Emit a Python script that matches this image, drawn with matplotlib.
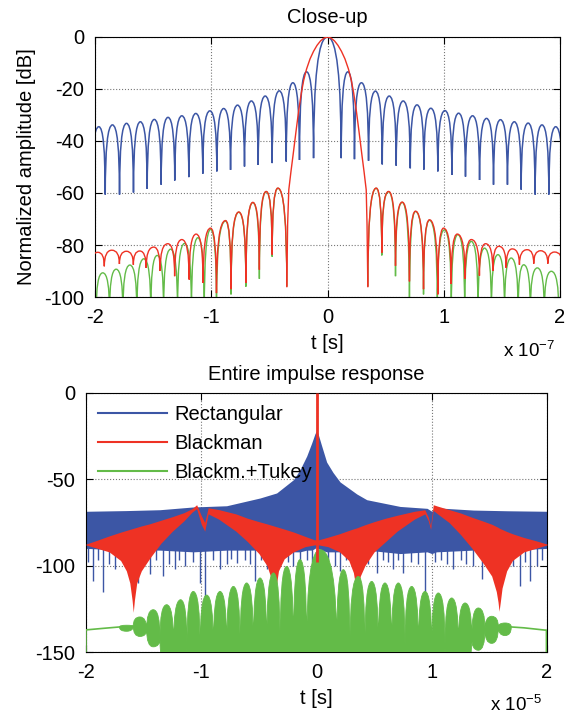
import matplotlib
matplotlib.use('Agg')
import matplotlib.pyplot as plt
from matplotlib.path import Path
from matplotlib.patches import PathPatch
from matplotlib.lines import Line2D

plt.rcParams['font.family'] = ['Liberation Sans', 'DejaVu Sans']
plt.rcParams['mathtext.fontset'] = 'custom'
plt.rcParams['mathtext.rm'] = 'Liberation Sans'
plt.rcParams['axes.unicode_minus'] = False

BLUE = '#3c56a5'
RED = '#ee3224'
GREEN = '#63bb48'

# ---------------- Close-up (t in units of 1e-7 s) ----------------
# rectangular window: null positions / depths and sidelobe peaks
rect_null_t = [-2.03, -1.912, -1.789, -1.669, -1.551, -1.431, -1.314, -1.193, -1.073, -0.952,
               -0.834, -0.714, -0.596, -0.476, -0.355, -0.241, -0.12, 0.118, 0.232, 0.353,
               0.471, 0.591, 0.712, 0.829, 0.949, 1.07, 1.187, 1.308, 1.428, 1.548,
               1.666, 1.786, 1.904, 2.025]
rect_null_db = [-61, -60.6, -60.6, -59.8, -58.4, -56.8, -55.2, -53.9, -52.6, -51.7,
                -51.1, -49.8, -49.2, -48.5, -47.9, -47.3, -46.6, -46.6, -47.0, -47.6,
                -49.0, -49.5, -50.5, -51.0, -51.7, -53.0, -53.7, -55.0, -56.8, -56.8,
                -58.7, -60.6, -60.6, -61]
rect_peak_t = [-1.967, -1.85, -1.729, -1.61, -1.49, -1.372, -1.253, -1.133, -1.012, -0.893,
               -0.774, -0.655, -0.536, -0.415, -0.298, -0.18, 0.0, 0.175, 0.292, 0.412,
               0.531, 0.651, 0.77, 0.889, 1.01, 1.128, 1.248, 1.368, 1.488, 1.607,
               1.726, 1.845, 1.963]
rect_peak_db = [-34.5, -33.8, -33.2, -32.6, -31.7, -30.9, -30.3, -29.4, -28.4, -27.5,
                -26.2, -24.6, -22.7, -20.7, -17.6, -13.4, 0.0, -13.4, -17.6, -20.8,
                -22.7, -24.6, -26.1, -27.4, -28.3, -29.3, -30.3, -31.3, -31.8, -32.6,
                -33.1, -33.8, -34.5]

# Blackman main lobe
black_main_t = [-0.35, -0.343, -0.333, -0.315, -0.295, -0.27, -0.247, -0.225, -0.204, -0.18,
                -0.15, -0.12, -0.09, -0.06, -0.03, 0.0, 0.03, 0.06, 0.09, 0.12,
                0.15, 0.18, 0.204, 0.225, 0.247, 0.27, 0.295, 0.315, 0.333, 0.34, 0.347]
black_main_db = [-96, -72, -58.8, -52, -45, -36, -28, -21.5, -16.5, -12.3,
                 -8.4, -5.5, -3.2, -1.5, -0.4, 0.0, -0.4, -1.5, -3.2, -5.5,
                 -8.4, -12.3, -16.5, -21.5, -28, -36, -45, -52, -58.8, -72, -96]

# Blackman sidelobes (alternating null / peak)
black_left_t = [-2.04, -1.975, -1.92, -1.855, -1.79, -1.73, -1.67, -1.615, -1.56, -1.494,
                -1.44, -1.373, -1.315, -1.253, -1.19, -1.13, -1.07, -1.006, -0.955, -0.877,
                -0.83, -0.763, -0.702, -0.642, -0.586, -0.527, -0.476, -0.427, -0.35]
black_left_db = [-88, -82.8, -88.2, -82, -87.3, -82.4, -87.6, -82.3, -88.8, -80.8,
                 -90, -79.5, -92, -77.9, -93.3, -75.8, -94.6, -73.5, -98.5, -70.6,
                 -97, -67.3, -94.6, -63.6, -89.5, -59.4, -83.7, -58.1, -96]
black_right_t = [0.347, 0.419, 0.467, 0.525, 0.585, 0.642, 0.705, 0.757, 0.826, 0.877,
                 0.949, 0.998, 1.064, 1.116, 1.184, 1.237, 1.307, 1.36, 1.422, 1.474,
                 1.537, 1.589, 1.651, 1.718, 1.774, 1.833, 1.895, 1.953, 2.02]
black_right_db = [-96, -58.1, -83, -59.4, -88, -63.5, -94, -67, -97, -70.3,
                  -99, -73.5, -95, -75.8, -93, -77.9, -91.8, -79.5, -90, -80.5,
                  -88.8, -81.5, -87.6, -81.8, -87.2, -82.2, -87.2, -82.7, -87.5]

# Blackman + Tukey sidelobes (alternating null / peak)
tukey_left_t = [-1.99, -1.933, -1.875, -1.818, -1.76, -1.70, -1.64, -1.58, -1.52, -1.465,
                -1.41, -1.35, -1.29, -1.23, -1.17, -1.115, -1.06, -1.005, -0.955, -0.877,
                -0.83, -0.763, -0.702, -0.642, -0.586, -0.527, -0.476, -0.427, -0.35]
tukey_left_db = [-106, -90.7, -106, -89.3, -106, -87.7, -106, -85.3, -106, -84,
                 -106, -81.6, -106, -79.4, -106, -77.2, -106, -74, -104, -70.8,
                 -99, -67.4, -96, -63.7, -93, -59.5, -84.5, -58.2, -96]
tukey_right_t = [0.347, 0.419, 0.467, 0.525, 0.585, 0.642, 0.705, 0.757, 0.826, 0.877,
                 0.945, 1.005, 1.065, 1.122, 1.18, 1.237, 1.295, 1.351, 1.41, 1.466,
                 1.523, 1.58, 1.64, 1.688, 1.745, 1.805, 1.865, 1.925, 1.99]
tukey_right_db = [-96, -58.2, -84, -59.5, -92, -63.6, -104, -67.1, -99, -70.5,
                  -104, -74.2, -106, -76, -106, -78.6, -106, -81.2, -106, -83.7,
                  -106, -85, -106, -87.6, -106, -88.8, -106, -90.1, -106]

# ---------------- Entire response (t in units of 1e-5 s) ----------------
rect_env_t = [-2.0, -1.65, -1.36, -1.07, -0.78, -0.49, -0.346, -0.2, -0.143, -0.085,
              -0.042, -0.013, 0.0, 0.013, 0.042, 0.088, 0.143, 0.204, 0.35, 0.436,
              0.725, 0.96, 1.0, 1.04, 1.36, 1.65, 2.0]
rect_env_top = [-68.5, -68.1, -67.6, -66.0, -65.3, -60.8, -57.9, -50.2, -44.4, -36.5,
                -29, -23.5, -22, -23.5, -30, -40, -46, -51.5, -58.5, -61.8,
                -65.7, -66.8, -68.5, -66.5, -67.8, -68.2, -68.5]
rect_env_bot = [-90, -91, -91, -92, -91, -91, -92, -92, -92, -91,
                -91, -90, -89, -90, -91, -92, -92, -92, -91, -91,
                -93, -92, -93, -92, -91, -91, -90]
rect_spike_t = [-1.98, -1.936, -1.9, -1.849, -1.8, -1.748, -1.7, -1.661, -1.546, -1.5,
                -1.445, -1.39, -1.329, -1.28, -1.228, -1.19, -1.141, -1.07, -1.01, -0.967,
                -0.9, -0.837, -0.78, -0.74, -0.692, -0.62, -0.58, -0.533, -0.48, -0.432,
                -0.37, -0.3, -0.25, -0.2, -0.14, -0.085, -0.04, 0.05, 0.1, 0.16,
                0.204, 0.26, 0.32, 0.38, 0.45, 0.522, 0.58, 0.62, 0.667, 0.71,
                0.753, 0.82, 0.88, 0.941, 1.03, 1.08, 1.13, 1.187, 1.25, 1.3,
                1.36, 1.433, 1.5, 1.56, 1.62, 1.708, 1.766, 1.81, 1.853, 1.91, 1.96]
rect_spike_db = [-98, -109, -97, -115, -99, -102, -96, -100.4, -110, -98,
                 -105, -97, -106, -99, -102, -97, -100, -98, -110, -118,
                 -97, -102, -99, -96, -98.5, -97, -99, -109, -97, -102,
                 -99, -97, -98, -100, -97, -96.5, -98, -99, -97, -100,
                 -103, -97, -98.5, -97, -99, -104, -97, -98, -102, -97,
                 -104, -98, -99, -115, -98, -97, -99, -102, -97, -99,
                 -100.4, -108, -97, -98, -99, -100.4, -112, -98, -109, -100.4, -97]

black_band_t = [-2.0, -1.9, -1.8, -1.7, -1.65, -1.62, -1.6, -1.59, -1.58, -1.56,
                -1.52, -1.45, -1.35, -1.25, -1.15, -1.08, -1.04, -1.0, -0.97, -0.94,
                -0.85, -0.7, -0.6, -0.5, -0.43, -0.39, -0.37, -0.36, -0.35, -0.33,
                -0.28, -0.2, -0.1, -0.02, 0.0,
                0.02, 0.1, 0.2, 0.28, 0.32, 0.34, 0.354, 0.365, 0.38, 0.42,
                0.5, 0.6, 0.7, 0.85, 0.94, 0.97, 0.99, 1.013, 1.05, 1.15,
                1.25, 1.35, 1.45, 1.52, 1.56, 1.575, 1.584, 1.595, 1.61, 1.65,
                1.7, 1.8, 1.9, 2.0]
black_band_top = [-87.5, -85.2, -82.8, -80.6, -79.6, -79, -78.6, -78.4, -78.2, -77.8,
                  -77, -75.8, -73.7, -71.6, -69.3, -67, -64.7, -71, -75, -66.5,
                  -67.5, -70, -72.5, -74.5, -75.8, -76.6, -77, -77.2, -77.4, -77.8,
                  -78.8, -80.5, -83, -85, -85,
                  -85, -83.5, -81.5, -79.6, -78.7, -78.3, -78, -77.7, -77.3, -76.3,
                  -74.5, -72.5, -70.8, -68.5, -67.6, -72, -77, -64.7, -65.5, -67.5,
                  -69.5, -72, -74.3, -76, -77.3, -77.8, -78.2, -78.6, -79, -80.2,
                  -81.5, -83.7, -85.5, -87.5]
black_band_bot = [-88, -90, -92, -97, -103, -110, -120, -127, -120, -110,
                  -103, -96, -87, -80, -74, -69, -67, -76, -80, -70,
                  -73, -80, -86, -93, -100, -108, -114, -118, -112, -103,
                  -96, -92, -89, -88, -88,
                  -88, -89, -92, -97, -104, -112, -118, -112, -106, -100,
                  -92, -86, -80, -73, -70, -74, -79, -68, -70, -75,
                  -82, -90, -99, -106, -115, -121, -126.4, -121, -113, -103,
                  -97, -92, -90, -88]
black_spike_t = 0.0
black_spike_low = -98

# Blackman + Tukey lobes: junction points, lobe tops and lobe bottoms
tukey_join_t = [-1.71, -1.59, -1.474, -1.358, -1.24, -1.124, -1.01, -0.895, -0.779, -0.663,
                -0.548, -0.432, -0.316, -0.2, -0.085, 0.175, 0.29, 0.42, 0.536, 0.652,
                0.768, 0.884, 1.0, 1.115, 1.231, 1.347, 1.462, 1.578, 1.69]
tukey_join_db = [-135.5, -135, -137, -142, -146, -147, -148, -148, -148, -148,
                 -148, -148, -148, -148, -147, -147, -148, -148, -148, -148,
                 -148, -148, -148, -147, -146, -142, -137, -135.5, -135.5]
tukey_top_t = [-1.648, -1.532, -1.416, -1.30, -1.179, -1.069, -0.953, -0.837, -0.721, -0.606,
               -0.49, -0.374, -0.259, -0.143, 0.03, 0.233, 0.363, 0.479, 0.594, 0.71,
               0.826, 0.941, 1.057, 1.173, 1.289, 1.404, 1.52, 1.636]
tukey_top_db = [-134.5, -129.7, -125.5, -122.6, -119.7, -114.9, -117, -114.9, -112, -110,
                -107.1, -104.2, -100.4, -96.5, -90.7, -102.3, -106.2, -109.1, -110, -110,
                -112, -114.9, -115.8, -118.7, -121.6, -124.5, -129.3, -133.2]
tukey_floor_db = [-138, -141, -147, -160, -160, -160, -160, -160, -160, -160,
                  -160, -160, -160, -160, -160, -160, -160, -160, -160, -160,
                  -160, -160, -160, -160, -160, -149, -145, -140.5]
tukey_tail_left_t = [-2.0, -2.0, -1.85, -1.71]
tukey_tail_left_db = [-151, -137.2, -136.3, -135.5]
tukey_tail_right_t = [1.69, 1.8, 1.98, 1.995, 1.995]
tukey_tail_right_db = [-135.5, -136, -137.3, -137.3, -151]


def lobe_path(ts, dbs):
    # alternating null / peak points joined by arches (steep at the nulls, flat at the peaks)
    verts = [(ts[0], dbs[0])]
    codes = [Path.MOVETO]
    for i in range(1, len(ts)):
        if dbs[i] > dbs[i - 1]:
            ctrl = (ts[i - 1], dbs[i])
        else:
            ctrl = (ts[i], dbs[i - 1])
        verts += [ctrl, (ts[i], dbs[i])]
        codes += [Path.CURVE3, Path.CURVE3]
    return Path(verts, codes)


def dome_path(jt, jdb, pt, pdb, fdb):
    # closed lobes: arch on top, rounded bottom
    verts, codes = [], []
    for i in range(len(pt)):
        t0, t1 = jt[i], jt[i + 1]
        verts += [(t0, jdb[i]), (t0, pdb[i]), (pt[i], pdb[i]), (t1, pdb[i]), (t1, jdb[i + 1]),
                  (t1, fdb[i]), (pt[i], fdb[i]), (t0, fdb[i]), (t0, jdb[i]), (t0, jdb[i])]
        codes += [Path.MOVETO] + [Path.CURVE3] * 8 + [Path.CLOSEPOLY]
    return Path(verts, codes)


def interleave(nulls, peaks):
    out = []
    for n, p in zip(nulls[:-1], peaks):
        out += [n, p]
    return out + [nulls[-1]]


fig = plt.figure(figsize=(5.75, 7.14), dpi=100)
ax1 = fig.add_axes([95 / 575, 1 - 297 / 714, 465 / 575, 260 / 714])
ax2 = fig.add_axes([86 / 575, 1 - 652 / 714, 461 / 575, 259 / 714])

# close-up
ax1.add_patch(PathPatch(lobe_path(interleave(rect_null_t, rect_peak_t),
                                  interleave(rect_null_db, rect_peak_db)),
                        fill=False, ec=BLUE, lw=1.1, zorder=2))
ax1.add_patch(PathPatch(lobe_path(tukey_left_t, tukey_left_db), fill=False, ec=GREEN, lw=1.0, zorder=2))
ax1.add_patch(PathPatch(lobe_path(tukey_right_t, tukey_right_db), fill=False, ec=GREEN, lw=1.0, zorder=2))
ax1.add_patch(PathPatch(lobe_path(black_left_t, black_left_db), fill=False, ec=RED, lw=1.0, zorder=3))
ax1.add_patch(PathPatch(lobe_path(black_right_t, black_right_db), fill=False, ec=RED, lw=1.0, zorder=3))
ax1.plot(black_main_t, black_main_db, color=RED, lw=1.0, zorder=3)

ax1.set_xlim(-2, 2)
ax1.set_ylim(-100, 0)
ax1.set_xticks([-2, -1, 0, 1, 2])
ax1.set_yticks([-100, -80, -60, -40, -20, 0])
ax1.set_title('Close-up', fontsize=14.5, pad=10)
ax1.set_xlabel('t [s]', fontsize=14.5, labelpad=5)
ax1.set_ylabel('Normalized amplitude [dB]', fontsize=14.5, labelpad=6)
ax1.text(0.99, -0.205, r'x 10$^{\mathregular{-7}}$', transform=ax1.transAxes,
         ha='right', va='center', fontsize=13.5)

# entire response
ax2.fill_between(rect_env_t, rect_env_bot, rect_env_top, color=BLUE, lw=0, zorder=2)
ax2.vlines(rect_spike_t, rect_spike_db, -88, color=BLUE, lw=1.0, zorder=2)
ax2.fill_between(black_band_t, black_band_bot, black_band_top, color=RED, lw=0, zorder=3)
ax2.add_patch(PathPatch(dome_path(tukey_join_t, tukey_join_db, tukey_top_t, tukey_top_db,
                                  tukey_floor_db),
                        fc=GREEN, ec=GREEN, lw=0.6, zorder=4))
ax2.plot(tukey_tail_left_t, tukey_tail_left_db, color=GREEN, lw=1.2, zorder=4)
ax2.plot(tukey_tail_right_t, tukey_tail_right_db, color=GREEN, lw=1.2, zorder=4)
ax2.vlines([black_spike_t], black_spike_low, 0, color=RED, lw=2.0, zorder=5)

ax2.set_xlim(-2, 2)
ax2.set_ylim(-150, 0)
ax2.set_xticks([-2, -1, 0, 1, 2])
ax2.set_yticks([-150, -100, -50, 0])
ax2.set_title('Entire impulse response', fontsize=14.5, pad=9)
ax2.set_xlabel('t [s]', fontsize=14.5, labelpad=5)
ax2.text(0.99, -0.205, r'x 10$^{\mathregular{-5}}$', transform=ax2.transAxes,
         ha='right', va='center', fontsize=13.5)

handles = [Line2D([], [], color=BLUE, lw=1.5),
           Line2D([], [], color=RED, lw=1.5),
           Line2D([], [], color=GREEN, lw=1.5)]
ax2.legend(handles, ['Rectangular', 'Blackman', 'Blackm.+Tukey'], loc='upper left',
           frameon=False, fontsize=14.5, handlelength=3.4, labelspacing=0.5,
           borderaxespad=0.2, handletextpad=0.4)

for ax in (ax1, ax2):
    ax.grid(True, ls=':', color='#777777', lw=0.8)
    ax.set_axisbelow(True)
    ax.tick_params(direction='in', length=5, top=True, right=True, labelsize=14.5, pad=8)
    for s in ax.spines.values():
        s.set_linewidth(0.8)

fig.savefig('out.png', dpi=100)
